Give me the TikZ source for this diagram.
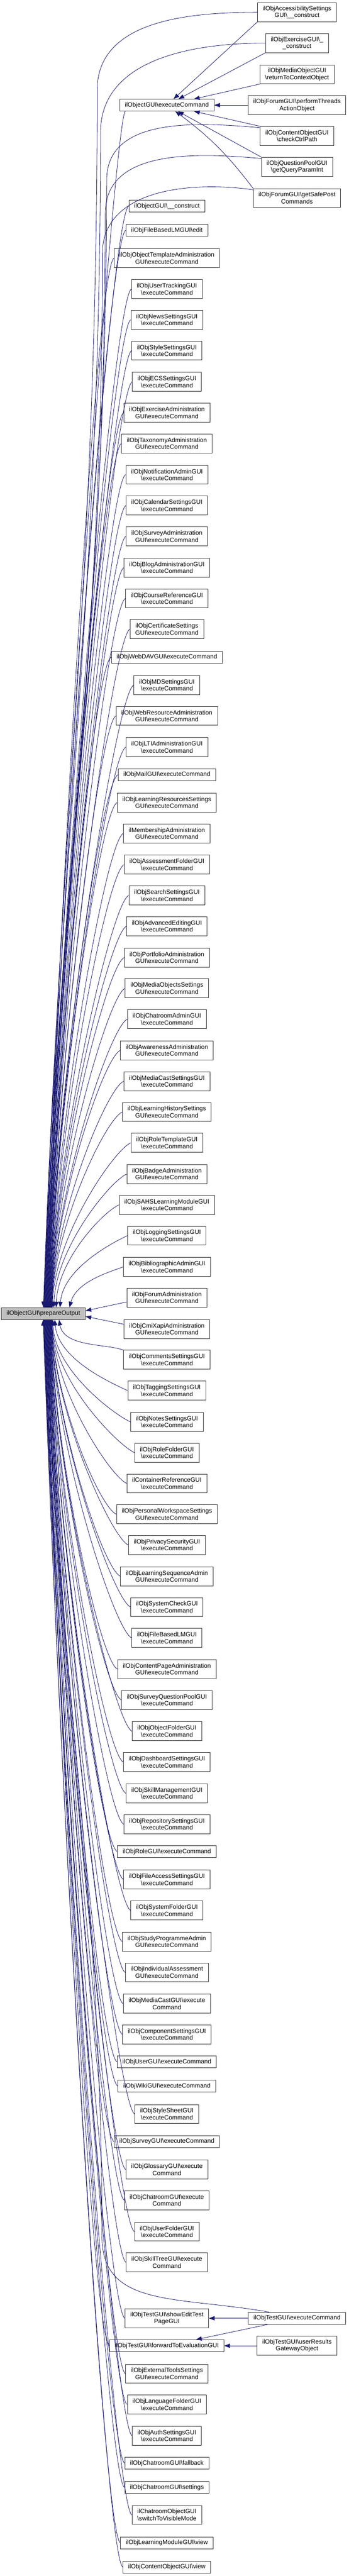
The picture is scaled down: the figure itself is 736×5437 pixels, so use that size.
\documentclass[tikz,border=0pt]{standalone}
\usepackage{fontspec}
\setmainfont{Liberation Sans}
\usetikzlibrary{arrows.meta,calc}
\definecolor{midblue}{HTML}{191970}
\newcommand{\bsl}{\textbackslash}

\begin{document}
\begin{tikzpicture}[x=0.1pt,y=0.1pt]
\tikzstyle{every node}=[font=\fontsize{1.31}{1.47}\selectfont]
\tikzstyle{fn}=[draw=black!80,line width=0.1pt,fill=white,align=center,inner xsep=1.1pt,inner ysep=0.2pt,minimum height=2.5pt]
\tikzstyle{fn2}=[fn,minimum height=4pt]
\tikzstyle{call}=[{Triangle[length=1.2pt,width=0.9pt]}-,line width=0.09pt,color=midblue]
\useasboundingbox (0,0) rectangle (736,-5437);
% callers, top part
\node[fn] (exec) at (352,-222) {ilObjectGUI\bsl executeCommand};
\node[fn2] (r1) at (626.5,-26) {ilObjAccessibilitySettings\\GUI\bsl\_\_construct};
\node[fn2] (r2) at (626.5,-91) {ilObjExerciseGUI\bsl\_\\\_construct};
\node[fn2] (r3) at (626.5,-157) {ilObjMediaObjectGUI\\\bsl returnToContextObject};
\node[fn2] (r4) at (626.5,-222) {ilObjForumGUI\bsl performThreads\\ActionObject};
\node[fn2] (r5) at (626.5,-287) {ilObjContentObjectGUI\\\bsl checkCtrlPath};
\node[fn2] (r6) at (626.5,-352) {ilObjQuestionPoolGUI\\\bsl getQueryParamInt};
\node[fn2] (r7) at (626.5,-418) {ilObjForumGUI\bsl getSafePost\\Commands};
\node[fn] (m1) at (352,-435) {ilObjectGUI\bsl\_\_construct};
\node[fn] (m2) at (352,-486) {ilObjFileBasedLMGUI\bsl edit};
\node[fn2] (m3) at (352,-545) {ilObjObjectTemplateAdministration\\GUI\bsl executeCommand};
\node[fn2] (m4) at (352,-610) {ilObjUserTrackingGUI\\\bsl executeCommand};
\node[fn2] (m5) at (352,-675) {ilObjNewsSettingsGUI\\\bsl executeCommand};
\node[fn2] (m6) at (352,-740) {ilObjStyleSettingsGUI\\\bsl executeCommand};
\node[fn2] (m7) at (352,-806) {ilObjECSSettingsGUI\\\bsl executeCommand};
\node[fn2] (m8) at (352,-871) {ilObjExerciseAdministration\\GUI\bsl executeCommand};
\node[fn2] (m9) at (352,-936) {ilObjTaxonomyAdministration\\GUI\bsl executeCommand};
\node[fn2] (m10) at (352,-1002) {ilObjNotificationAdminGUI\\\bsl executeCommand};
\node[fn2] (m11) at (352,-1067) {ilObjCalendarSettingsGUI\\\bsl executeCommand};
\node[fn2] (m12) at (352,-1132) {ilObjSurveyAdministration\\GUI\bsl executeCommand};
\node[fn2] (m13) at (352,-1198) {ilObjBlogAdministrationGUI\\\bsl executeCommand};
\node[fn2] (m14) at (352,-1263) {ilObjCourseReferenceGUI\\\bsl executeCommand};
\node[fn2] (m15) at (352,-1328) {ilObjCertificateSettings\\GUI\bsl executeCommand};
\node[fn] (m16) at (352,-1387) {ilObjWebDAVGUI\bsl executeCommand};
\node[fn2] (m17) at (352,-1446) {ilObjMDSettingsGUI\\\bsl executeCommand};
\node[fn2] (m18) at (352,-1511) {ilObjWebResourceAdministration\\GUI\bsl executeCommand};
\node[fn2] (m19) at (352,-1577) {ilObjLTIAdministrationGUI\\\bsl executeCommand};
\node[fn] (m20) at (352,-1635) {ilObjMailGUI\bsl executeCommand};
\node[fn2] (m21) at (352,-1694) {ilObjLearningResourcesSettings\\GUI\bsl executeCommand};
\node[fn2] (m22) at (352,-1759) {ilMembershipAdministration\\GUI\bsl executeCommand};
\node[fn2] (m23) at (352,-1825) {ilObjAssessmentFolderGUI\\\bsl executeCommand};
\node[fn2] (m24) at (352,-1890) {ilObjSearchSettingsGUI\\\bsl executeCommand};
\node[fn2] (m25) at (352,-1955) {ilObjAdvancedEditingGUI\\\bsl executeCommand};
\node[fn2] (m26) at (352,-2021) {ilObjPortfolioAdministration\\GUI\bsl executeCommand};
\node[fn2] (m27) at (352,-2086) {ilObjMediaObjectsSettings\\GUI\bsl executeCommand};
\node[fn2] (m28) at (352,-2151) {ilObjChatroomAdminGUI\\\bsl executeCommand};
\node[fn2] (m29) at (352,-2217) {ilObjAwarenessAdministration\\GUI\bsl executeCommand};
\node[fn2] (m30) at (352,-2282) {ilObjMediaCastSettingsGUI\\\bsl executeCommand};
\node[fn2] (m31) at (352,-2347) {ilObjLearningHistorySettings\\GUI\bsl executeCommand};
\node[fn2] (m32) at (352,-2412) {ilObjRoleTemplateGUI\\\bsl executeCommand};
\node[fn2] (m33) at (352,-2478) {ilObjBadgeAdministration\\GUI\bsl executeCommand};
\node[fn2] (m34) at (352,-2543) {ilObjSAHSLearningModuleGUI\\\bsl executeCommand};
\node[fn2] (m35) at (352,-2608) {ilObjLoggingSettingsGUI\\\bsl executeCommand};
\node[fn2] (m36) at (352,-2674) {ilObjBibliographicAdminGUI\\\bsl executeCommand};
\node[fn2] (m37) at (352,-2739) {ilObjForumAdministration\\GUI\bsl executeCommand};
% the called function
\node[fn,fill=black!25] (prep) at (91.5,-2772.5) {ilObjectGUI\bsl prepareOutput};
% callers, bottom part
\node[fn2] (m38) at (352,-2805) {ilObjCmiXapiAdministration\\GUI\bsl executeCommand};
\node[fn2] (m39) at (352,-2870) {ilObjCommentsSettingsGUI\\\bsl executeCommand};
\node[fn2] (m40) at (352,-2935) {ilObjTaggingSettingsGUI\\\bsl executeCommand};
\node[fn2] (m41) at (352,-3001) {ilObjNotesSettingsGUI\\\bsl executeCommand};
\node[fn2] (m42) at (352,-3066) {ilObjRoleFolderGUI\\\bsl executeCommand};
\node[fn2] (m43) at (352,-3131) {ilContainerReferenceGUI\\\bsl executeCommand};
\node[fn2] (m44) at (352,-3196) {ilObjPersonalWorkspaceSettings\\GUI\bsl executeCommand};
\node[fn2] (m45) at (352,-3261) {ilObjPrivacySecurityGUI\\\bsl executeCommand};
\node[fn2] (m46) at (352,-3327) {ilObjLearningSequenceAdmin\\GUI\bsl executeCommand};
\node[fn2] (m47) at (352,-3392) {ilObjSystemCheckGUI\\\bsl executeCommand};
\node[fn2] (m48) at (352,-3457) {ilObjFileBasedLMGUI\\\bsl executeCommand};
\node[fn2] (m49) at (352,-3523) {ilObjContentPageAdministration\\GUI\bsl executeCommand};
\node[fn2] (m50) at (352,-3588) {ilObjSurveyQuestionPoolGUI\\\bsl executeCommand};
\node[fn2] (m51) at (352,-3654) {ilObjObjectFolderGUI\\\bsl executeCommand};
\node[fn2] (m52) at (352,-3719) {ilObjDashboardSettingsGUI\\\bsl executeCommand};
\node[fn2] (m53) at (352,-3785) {ilObjSkillManagementGUI\\\bsl executeCommand};
\node[fn2] (m54) at (352,-3850) {ilObjRepositorySettingsGUI\\\bsl executeCommand};
\node[fn] (m55) at (352,-3908) {ilObjRoleGUI\bsl executeCommand};
\node[fn2] (m56) at (352,-3967) {ilObjFileAccessSettingsGUI\\\bsl executeCommand};
\node[fn2] (m57) at (352,-4032) {ilObjSystemFolderGUI\\\bsl executeCommand};
\node[fn2] (m58) at (352,-4098) {ilObjStudyProgrammeAdmin\\GUI\bsl executeCommand};
\node[fn2] (m59) at (352,-4163) {ilObjIndividualAssessment\\GUI\bsl executeCommand};
\node[fn2] (m60) at (352,-4229) {ilObjMediaCastGUI\bsl execute\\Command};
\node[fn2] (m61) at (352,-4294) {ilObjComponentSettingsGUI\\\bsl executeCommand};
\node[fn] (m62) at (352,-4352) {ilObjUserGUI\bsl executeCommand};
\node[fn] (m63) at (352,-4403) {ilObjWikiGUI\bsl executeCommand};
\node[fn2] (m64) at (352,-4462) {ilObjStyleSheetGUI\\\bsl executeCommand};
\node[fn] (m65) at (352,-4520) {ilObjSurveyGUI\bsl executeCommand};
\node[fn2] (m66) at (352,-4579) {ilObjGlossaryGUI\bsl execute\\Command};
\node[fn2] (m67) at (352,-4644) {ilObjChatroomGUI\bsl execute\\Command};
\node[fn2] (m68) at (352,-4710) {ilObjUserFolderGUI\\\bsl executeCommand};
\node[fn2] (m69) at (352,-4775) {ilObjSkillTreeGUI\bsl execute\\Command};
\node[fn2] (m70) at (352,-4893) {ilObjTestGUI\bsl showEditTest\\PageGUI};
\node[fn] (texec) at (626.5,-4893) {ilObjTestGUI\bsl executeCommand};
\node[fn] (m71) at (352,-4951) {ilObjTestGUI\bsl forwardToEvaluationGUI};
\node[fn2] (rres) at (626.5,-4951) {ilObjTestGUI\bsl userResults\\GatewayObject};
\node[fn2] (m72) at (352,-5010) {ilObjExternalToolsSettings\\GUI\bsl executeCommand};
\node[fn2] (m73) at (352,-5075) {ilObjLanguageFolderGUI\\\bsl executeCommand};
\node[fn2] (m74) at (352,-5141) {ilObjAuthSettingsGUI\\\bsl executeCommand};
\node[fn] (m75) at (352,-5199) {ilObjChatroomGUI\bsl fallback};
\node[fn] (m76) at (352,-5250) {ilObjChatroomGUI\bsl settings};
\node[fn2] (m77) at (352,-5308) {ilChatroomObjectGUI\\\bsl switchToVisibleMode};
\node[fn] (m78) at (352,-5367) {ilObjLearningModuleGUI\bsl view};
\node[fn] (m79) at (352,-5418) {ilObjContentObjectGUI\bsl view};
% calls into executeCommand
\draw[call] (exec) -- (r1.south west);
\draw[call] (exec) -- (r2.south west);
\draw[call] (exec) -- (r3.south west);
\draw[call] (exec) -- (r4);
\draw[call] (exec) -- (r5.north west);
\draw[call] (exec) -- (r6.north west);
\draw[call] (exec) to[bend left=8] (r7.north west);
% calls into prepareOutput from above
\draw[call] (prep.north) to[out=88,in=-90] (205,-190) to[out=90,in=180] (r1.west);
\draw[call] ($(prep.north)+(0.5,0)$) to[out=88,in=-90] (212,-280) to[out=90,in=180] (r2.west);
\draw[call] ($(prep.north)+(1,0)$) to[out=88,in=225,in distance=3pt] ($(exec.south west)+(12,0)$);
\draw[call] ($(prep.north)+(1.5,0)$) to[out=88,in=-90] (225,-380) to[out=90,in=175] ($(r5.north west)+(0,-3)$);
\draw[call] ($(prep.north)+(2,0)$) to[out=88,in=-90] (222,-450) to[out=90,in=175] ($(r6.north west)+(0,-3)$);
\draw[call] ($(prep.north)+(2.5,0)$) to[out=88,in=-90] (216,-535) to[out=90,in=172] ($(r7.north west)+(0,-3)$);
\draw[call] ($(prep.north)+(3,0)$) to[out=88,in=205,in distance=4pt] (m1.west);
\draw[call] ($(prep.north)+(3.5,0)$) to[out=88,in=205,in distance=4pt] (m2.west);
\draw[call] ($(prep.north)+(4,0)$) to[out=88,in=205,in distance=4pt] (m3.west);
\draw[call] ($(prep.north)+(4.5,0)$) to[out=88,in=205,in distance=4pt] (m4.west);
\draw[call] ($(prep.north)+(5,0)$) to[out=88,in=205,in distance=4pt] (m5.west);
\draw[call] ($(prep.north)+(5.5,0)$) to[out=88,in=205,in distance=4pt] (m6.west);
\draw[call] ($(prep.north)+(6,0)$) to[out=88,in=205,in distance=4pt] (m7.west);
\draw[call] ($(prep.north)+(6.5,0)$) to[out=88,in=205,in distance=4pt] (m8.west);
\draw[call] ($(prep.north)+(7,0)$) to[out=88,in=205,in distance=4pt] (m9.west);
\draw[call] ($(prep.north)+(7.5,0)$) to[out=88,in=205,in distance=4pt] (m10.west);
\draw[call] ($(prep.north)+(8,0)$) to[out=88,in=205,in distance=4pt] (m11.west);
\draw[call] ($(prep.north)+(8.5,0)$) to[out=88,in=205,in distance=4pt] (m12.west);
\draw[call] ($(prep.north)+(9,0)$) to[out=88,in=205,in distance=4pt] (m13.west);
\draw[call] ($(prep.north)+(9.5,0)$) to[out=88,in=205,in distance=4pt] (m14.west);
\draw[call] ($(prep.north)+(10,0)$) to[out=88,in=205,in distance=4pt] (m15.west);
\draw[call] ($(prep.north)+(10.5,0)$) to[out=88,in=205,in distance=4pt] (m16.west);
\draw[call] ($(prep.north)+(11,0)$) to[out=88,in=205,in distance=4pt] (m17.west);
\draw[call] ($(prep.north)+(11.5,0)$) to[out=88,in=205,in distance=4pt] (m18.west);
\draw[call] ($(prep.north)+(12,0)$) to[out=88,in=205,in distance=4pt] (m19.west);
\draw[call] ($(prep.north)+(12.5,0)$) to[out=88,in=205,in distance=4pt] (m20.west);
\draw[call] ($(prep.north)+(13,0)$) to[out=88,in=205,in distance=4pt] (m21.west);
\draw[call] ($(prep.north)+(13.5,0)$) to[out=88,in=205,in distance=4pt] (m22.west);
\draw[call] ($(prep.north)+(14,0)$) to[out=88,in=205,in distance=4pt] (m23.west);
\draw[call] ($(prep.north)+(14.5,0)$) to[out=88,in=205,in distance=4pt] (m24.west);
\draw[call] ($(prep.north)+(15,0)$) to[out=88,in=205,in distance=4pt] (m25.west);
\draw[call] ($(prep.north)+(15.5,0)$) to[out=88,in=205,in distance=4pt] (m26.west);
\draw[call] ($(prep.north)+(16,0)$) to[out=88,in=205,in distance=4pt] (m27.west);
\draw[call] ($(prep.north)+(16.5,0)$) to[out=88,in=205,in distance=4pt] (m28.west);
\draw[call] ($(prep.north)+(17,0)$) to[out=88,in=205,in distance=4pt] (m29.west);
\draw[call] ($(prep.north)+(17.5,0)$) to[out=88,in=205,in distance=4pt] (m30.west);
\draw[call] ($(prep.north)+(18,0)$) to[out=88,in=205,in distance=4pt] (m31.west);
\draw[call] ($(prep.north)+(19,0)$) to[out=88,in=205,in distance=4pt] (m32.west);
\draw[call] ($(prep.north)+(22,0)$) to[out=88,in=205,in distance=4pt] (m33.west);
\draw[call] ($(prep.north)+(27,0)$) to[out=88,in=205,in distance=4pt] (m34.west);
\draw[call] ($(prep.north)+(35,0)$) to[out=85,in=205,in distance=4pt] (m35.west);
\draw[call] ($(prep.north)+(55,0)$) to[out=75,in=200,in distance=3.5pt] (m36.west);
\draw[call] ($(prep.east)+(0,6)$) -- ($(m37.west)+(0,-9)$);
% calls into prepareOutput from below
\draw[call] ($(prep.east)+(0,-6)$) -- ($(m38.west)+(0,10)$);
\draw[call] ($(prep.south)+(33,0)$) to[out=-80,in=160,in distance=4pt] (m39.north west);
\draw[call] ($(prep.south)+(24,0)$) to[out=-85,in=155,in distance=4pt] (m40.west);
\draw[call] ($(prep.south)+(20,0)$) to[out=-88,in=155,in distance=4pt] (m41.west);
\draw[call] ($(prep.south)+(18.5,0)$) to[out=-88,in=155,in distance=4pt] (m42.west);
\draw[call] ($(prep.south)+(18,0)$) to[out=-88,in=155,in distance=4pt] (m43.west);
\draw[call] ($(prep.south)+(17.5,0)$) to[out=-88,in=155,in distance=4pt] (m44.west);
\draw[call] ($(prep.south)+(17,0)$) to[out=-88,in=155,in distance=4pt] (m45.west);
\draw[call] ($(prep.south)+(16.5,0)$) to[out=-88,in=155,in distance=4pt] (m46.west);
\draw[call] ($(prep.south)+(16,0)$) to[out=-88,in=155,in distance=4pt] (m47.west);
\draw[call] ($(prep.south)+(15.5,0)$) to[out=-88,in=155,in distance=4pt] (m48.west);
\draw[call] ($(prep.south)+(15,0)$) to[out=-88,in=155,in distance=4pt] (m49.west);
\draw[call] ($(prep.south)+(14.5,0)$) to[out=-88,in=155,in distance=4pt] (m50.west);
\draw[call] ($(prep.south)+(14,0)$) to[out=-88,in=155,in distance=4pt] (m51.west);
\draw[call] ($(prep.south)+(13.5,0)$) to[out=-88,in=155,in distance=4pt] (m52.west);
\draw[call] ($(prep.south)+(13,0)$) to[out=-88,in=155,in distance=4pt] (m53.west);
\draw[call] ($(prep.south)+(12.5,0)$) to[out=-88,in=155,in distance=4pt] (m54.west);
\draw[call] ($(prep.south)+(12,0)$) to[out=-88,in=155,in distance=4pt] (m55.west);
\draw[call] ($(prep.south)+(11.5,0)$) to[out=-88,in=155,in distance=4pt] (m56.west);
\draw[call] ($(prep.south)+(11,0)$) to[out=-88,in=155,in distance=4pt] (m57.west);
\draw[call] ($(prep.south)+(10.5,0)$) to[out=-88,in=155,in distance=4pt] (m58.west);
\draw[call] ($(prep.south)+(10,0)$) to[out=-88,in=155,in distance=4pt] (m59.west);
\draw[call] ($(prep.south)+(9.5,0)$) to[out=-88,in=155,in distance=4pt] (m60.west);
\draw[call] ($(prep.south)+(9,0)$) to[out=-88,in=155,in distance=4pt] (m61.west);
\draw[call] ($(prep.south)+(8.5,0)$) to[out=-88,in=155,in distance=4pt] (m62.west);
\draw[call] ($(prep.south)+(8,0)$) to[out=-88,in=155,in distance=4pt] (m63.west);
\draw[call] ($(prep.south)+(7.5,0)$) to[out=-88,in=155,in distance=4pt] (m64.west);
\draw[call] ($(prep.south)+(7,0)$) to[out=-88,in=155,in distance=4pt] (m65.west);
\draw[call] ($(prep.south)+(6.5,0)$) to[out=-88,in=155,in distance=4pt] (m66.west);
\draw[call] ($(prep.south)+(6,0)$) to[out=-88,in=155,in distance=4pt] (m67.west);
\draw[call] ($(prep.south)+(5.5,0)$) to[out=-88,in=155,in distance=4pt] (m68.west);
\draw[call] ($(prep.south)+(5,0)$) to[out=-88,in=155,in distance=4pt] (m69.west);
\draw[call] ($(prep.south)+(4.5,0)$) to[out=-88,in=90] (215,-4720) to[out=-90,in=170,in distance=20pt] ($(texec.north west)+(45,0)$);
\draw[call] ($(prep.south)+(4,0)$) to[out=-88,in=155,in distance=4pt] (m70.west);
\draw[call] ($(prep.south)+(3.5,0)$) to[out=-88,in=155,in distance=4pt] (m71.west);
\draw[call] ($(prep.south)+(3,0)$) to[out=-88,in=155,in distance=4pt] (m72.west);
\draw[call] ($(prep.south)+(2.5,0)$) to[out=-88,in=155,in distance=4pt] (m73.west);
\draw[call] ($(prep.south)+(2,0)$) to[out=-88,in=155,in distance=4pt] (m74.west);
\draw[call] ($(prep.south)+(1.5,0)$) to[out=-88,in=155,in distance=4pt] (m75.west);
\draw[call] ($(prep.south)+(1,0)$) to[out=-88,in=155,in distance=4pt] (m76.west);
\draw[call] ($(prep.south)+(0.5,0)$) to[out=-88,in=155,in distance=4pt] (m77.west);
\draw[call] (prep.south) to[out=-88,in=155,in distance=4pt] (m78.west);
\draw[call] ($(prep.south)+(-0.5,0)$) to[out=-88,in=155,in distance=4pt] (m79.west);
% test GUI calls
\draw[call] (m70) -- (texec);
\draw[call] (m71) -- (texec);
\draw[call] (m71) -- (rres);
\end{tikzpicture}
\end{document}
